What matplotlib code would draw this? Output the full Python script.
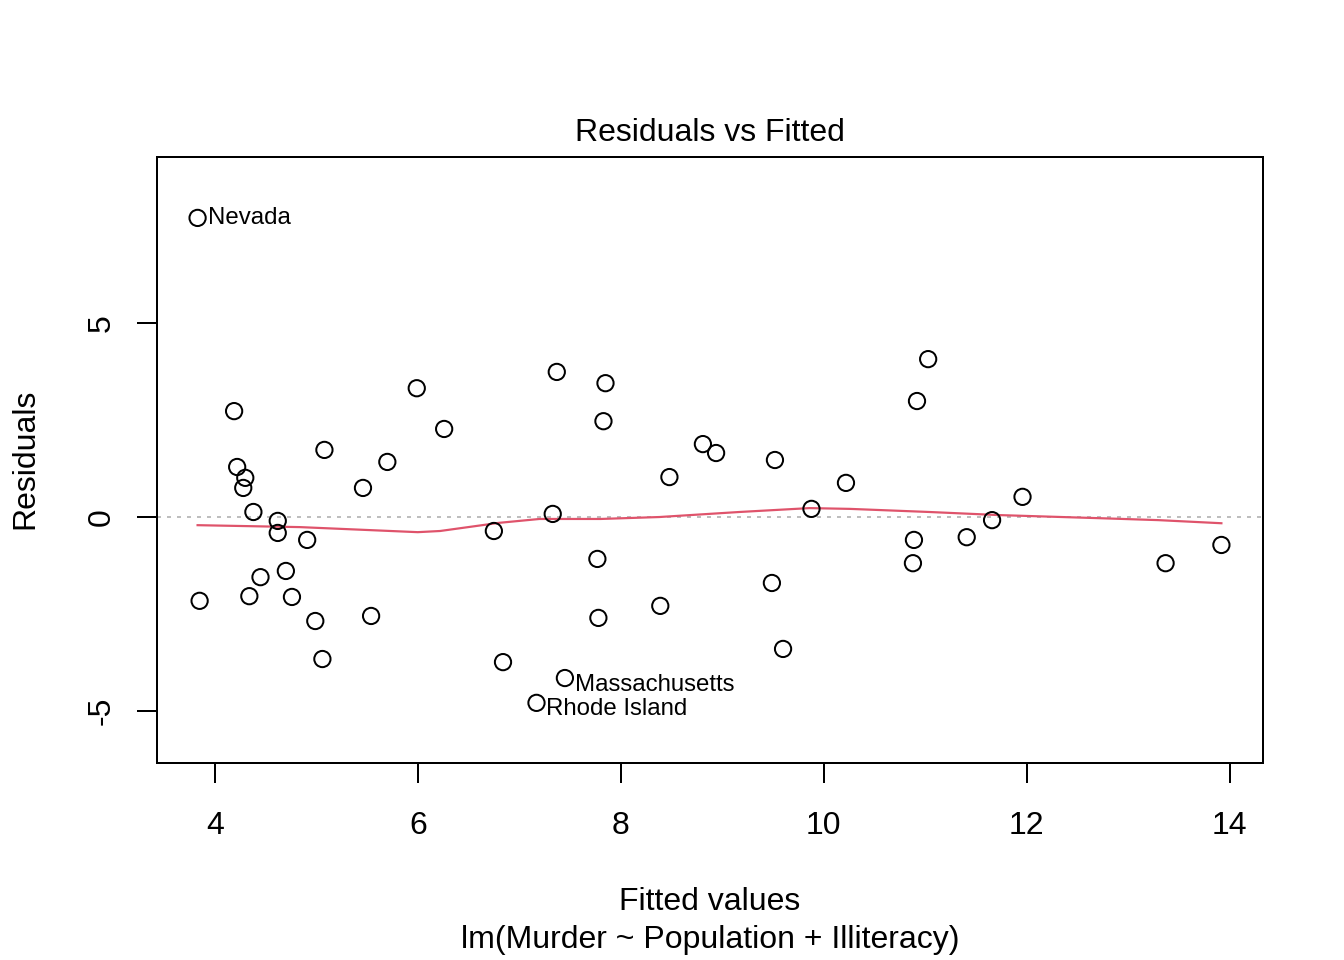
"""Residuals vs Fitted diagnostic plot for lm(Murder ~ Population + Illiteracy)."""

import matplotlib

matplotlib.use("Agg")
import matplotlib.pyplot as plt
import numpy as np

fitted = [
    3.83, 4.19, 4.22, 4.30, 4.28, 4.38, 4.62, 4.62, 4.91, 3.85,
    4.34, 4.45, 4.70, 4.76, 4.99, 5.06, 5.08, 5.46, 5.54, 5.70,
    5.99, 6.26, 6.75, 6.84, 7.17, 7.33, 7.37, 7.45, 7.77, 7.78,
    7.83, 7.85, 8.39, 8.48, 8.81, 8.94, 9.49, 9.52, 9.60, 9.88,
    10.22, 10.89, 10.88, 10.92, 11.03, 11.41, 11.66, 11.96, 13.37, 13.92,
]
residuals = [
    7.71, 2.73, 1.29, 1.01, 0.75, 0.13, -0.10, -0.41, -0.59, -2.16,
    -2.04, -1.55, -1.39, -2.06, -2.68, -3.66, 1.73, 0.75, -2.55, 1.42,
    3.32, 2.27, -0.36, -3.74, -4.79, 0.08, 3.74, -4.15, -1.08, -2.60,
    2.47, 3.45, -2.29, 1.03, 1.88, 1.65, -1.70, 1.47, -3.40, 0.21,
    0.88, -0.59, -1.19, 2.99, 4.07, -0.52, -0.08, 0.52, -1.19, -0.72,
]

# smoother curve
smooth_x = [3.83, 4.84, 6.00, 6.22, 6.80, 7.20, 7.80, 8.38, 9.17, 9.86, 10.26, 11.04, 11.73, 12.72, 13.30, 13.92]
smooth_y = [-0.21, -0.26, -0.39, -0.36, -0.15, -0.05, -0.05, 0.00, 0.13, 0.23, 0.21, 0.13, 0.05, -0.03, -0.08, -0.16]

labelled = ["Nevada", "Massachusetts", "Rhode Island"]
labelled_idx = [0, 27, 24]

x_ticks = [4, 6, 8, 10, 12, 14]
y_ticks = [-5, 0, 5]


def main() -> None:
    plt.rcParams["font.family"] = ["Liberation Sans", "DejaVu Sans"]
    fig = plt.figure(figsize=(1344 / 144, 960 / 144), dpi=144)
    ax = fig.add_axes([157 / 1344, 1 - 763 / 960, (1263 - 157) / 1344, (763 - 157) / 960])

    ax.axhline(0, color="#BEBEBE", linestyle=(0, (2, 3)), linewidth=1.0, zorder=1)
    ax.plot(smooth_x, smooth_y, color="#DF536B", linewidth=1.1, zorder=2)
    ax.scatter(fitted, residuals, s=66, facecolors="none", edgecolors="black", linewidths=1.0, zorder=3)

    offsets = {"Nevada": (5, 0), "Massachusetts": (5, -3.5), "Rhode Island": (5, -3)}
    for name, i in zip(labelled, labelled_idx):
        ax.annotate(name, (fitted[i], residuals[i]), xytext=offsets[name], textcoords="offset points",
                    ha="left", va="center", fontsize=12)

    ax.set_xlim(3.43, 14.33)
    ax.set_ylim(-6.34, 9.28)
    ax.set_xticks(x_ticks)
    ax.set_yticks(y_ticks)
    ax.set_yticklabels([str(t) for t in y_ticks], rotation=90, va="center")
    ax.tick_params(direction="out", length=10, width=1.0, labelsize=16)
    ax.tick_params(axis="x", pad=14)
    ax.tick_params(axis="y", pad=10)
    for spine in ax.spines.values():
        spine.set_linewidth(1.0)

    ax.set_title("Residuals vs Fitted", fontsize=16, pad=8)
    fig.text(0.5 * (157 + 1263) / 1344, 1 - 902 / 960, "Fitted values", ha="center", va="center", fontsize=16)
    fig.text(0.5 * (157 + 1263) / 1344, 1 - 940 / 960, "lm(Murder ~ Population + Illiteracy)",
             ha="center", va="center", fontsize=16)
    fig.text(25 / 1344, 1 - 459 / 960, "Residuals", rotation=90, ha="center", va="center", fontsize=16)

    fig.savefig("out.png", dpi=144)
    plt.close(fig)


if __name__ == "__main__":
    main()
